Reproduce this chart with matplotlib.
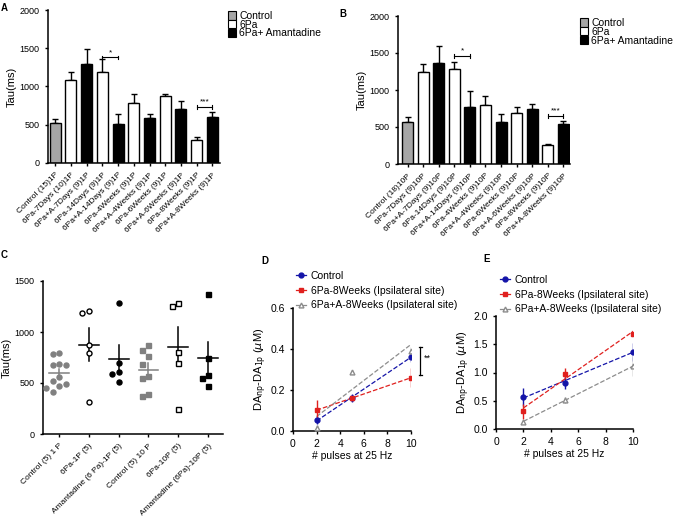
import numpy as np
import matplotlib.pyplot as plt
from matplotlib.patches import Patch
from matplotlib.lines import Line2D

plt.rcParams['font.family'] = ['Liberation Sans', 'DejaVu Sans']
plt.rcParams['axes.linewidth'] = 1.1

W, H = 680, 518


def box(l, t, r, b):
    # pixel box -> figure fraction
    return [l / W, 1 - b / H, (r - l) / W, (b - t) / H]


# ---- Panel A / B data (Tau, ms) ----
bar_groups = ['Control', '6Pa', '6Pa+A', '6Pa', '6Pa+A', '6Pa', '6Pa+A',
              '6Pa', '6Pa+A', '6Pa', '6Pa+A']
a_labels = ['Control (15)1P', '6Pa-7Days (10)1P', '6Pa+A-7Days (9)1P',
            '6Pa-14Days (9)1P', '6Pa+A-14Days (9)1P', '6Pa-4Weeks (9)1P',
            '6Pa+A-4Weeks (9)1P', '6Pa-6Weeks (9)1P', '6Pa+A-6Weeks (9)1P',
            '6Pa-8Weeks (9)1P', '6Pa+A-8Weeks (9)1P']
a_mean = [520, 1090, 1290, 1190, 505, 780, 585, 870, 710, 300, 605]
a_sem = [55, 100, 195, 165, 135, 120, 50, 30, 105, 35, 60]

b_labels = ['Control (18)10P', '6Pa-7Days (9)10P', '6Pa+A-7Days (9)10P',
            '6Pa-14Days (9)10P', '6Pa+A-14Days (9)10P', '6Pa-4Weeks (9)10P',
            '6Pa+A-4Weeks (9)10P', '6Pa-6Weeks (9)10P', '6Pa+A-6Weeks (9)10P',
            '6Pa-8Weeks (9)10P', '6Pa+A-8Weeks (9)10P']
b_mean = [565, 1245, 1365, 1280, 775, 800, 570, 690, 750, 255, 545]
b_sem = [70, 110, 225, 105, 210, 115, 100, 75, 55, 10, 35]

# significance brackets: (bar i, bar j, height, label)
a_stars = [(3, 4, 1380, '*'), (9, 10, 730, '***')]
b_stars = [(3, 4, 1460, '*'), (9, 10, 650, '***')]

# ---- Panel C data (individual Tau values, ms) ----
c_labels = ['Control (5) 1 P', '6Pa-1P (5)', 'Amantadine (6 Pa)-1P (5)',
            'Control (5) 10 P', '6Pa-10P (5)', 'Amantadine (6Pa)-10P (5)']
c_values = [
    [790, 785, 690, 680, 675, 560, 520, 490, 470, 455, 415],
    [1210, 1190, 870, 790, 315],
    [1285, 700, 605, 585, 505],
    [875, 820, 760, 685, 565, 545, 390, 375],
    [1280, 1255, 800, 700, 250],
    [1370, 750, 580, 545, 470],
]

# ---- Panel D / E data (DA_np - DA_1p, uM) ----
pulses = [2, 5, 10]
d_ctrl = [0.053, 0.160, 0.362]
d_ctrl_err = [0.02, 0.02, 0.025]
d_6pa = [0.102, 0.160, 0.260]
d_6pa_err = [0.05, 0.012, 0.045]
d_6paA = [0.017, 0.288, 0.390]
d_6paA_err = [0.01, 0.012, 0.02]

e_ctrl = [0.57, 0.82, 1.37]
e_ctrl_err = [0.16, 0.12, 0.16]
e_6pa = [0.31, 0.98, 1.69]
e_6pa_err = [0.13, 0.10, 0.07]
e_6paA = [0.13, 0.51, 1.11]
e_6paA_err = [0.03, 0.05, 0.17]

series_names = ['Control', '6Pa-8Weeks (Ipsilateral site)',
                '6Pa+A-8Weeks (Ipsilateral site)']

bar_colors = {'Control': '#a6a6a6', '6Pa': 'white', '6Pa+A': 'black'}
c_colors = ['#808080', 'black', 'black', '#808080', 'black', 'black']
c_faces = ['#808080', 'white', 'black', '#808080', 'white', 'black']
c_marks = ['o', 'o', 'o', 's', 's', 's']
line_colors = ['#1414a8', '#e0201e', '#8c8c8c']

fig = plt.figure(figsize=(6.8, 5.18), dpi=100)


def style_axes(ax):
    for s in ['top', 'right']:
        ax.spines[s].set_visible(False)
    ax.tick_params(length=2.5, width=1)


def bar_panel(rect, labels, means, sems, stars, xlim, leg_xy):
    ax = fig.add_axes(rect)
    x = np.arange(len(means))
    ax.bar(x, means, width=0.7, color=[bar_colors[g] for g in bar_groups],
           edgecolor='black', linewidth=1, zorder=2)
    ax.errorbar(x, means, yerr=[np.zeros(len(x)), sems], fmt='none',
                ecolor='black', elinewidth=1, capsize=2.5, capthick=1,
                zorder=1)
    for i, j, y, txt in stars:
        ax.plot([i, j], [y, y], color='black', lw=0.8)
        ax.plot([i, i], [y - 25, y + 25], color='black', lw=0.8)
        ax.plot([j, j], [y - 25, y + 25], color='black', lw=0.8)
        ax.text((i + j) / 2, y + 20, txt, ha='center', va='bottom',
                fontsize=6)
    ax.set_xlim(*xlim)
    ax.set_ylim(0, 2000)
    ax.set_yticks([0, 500, 1000, 1500, 2000])
    ax.set_xticks(x)
    ax.set_xticklabels(labels, rotation=45, ha='right',
                       rotation_mode='anchor', fontsize=6)
    ax.tick_params(axis='y', labelsize=6.5)
    ax.set_ylabel('Tau(ms)', fontsize=8, labelpad=2)
    style_axes(ax)
    handles = [Patch(facecolor=bar_colors[k], edgecolor='black', lw=0.8)
               for k in ['Control', '6Pa', '6Pa+A']]
    ax.legend(handles, ['Control', '6Pa', '6Pa+ Amantadine'],
              loc='upper left', bbox_to_anchor=leg_xy,
              bbox_transform=fig.transFigure, frameon=False, fontsize=7.5,
              labelspacing=-0.12, handlelength=0.8, handleheight=0.9,
              handletextpad=0.3, borderpad=0, borderaxespad=0)
    return ax


bar_panel(box(48, 10, 220, 163), a_labels, a_mean, a_sem, a_stars,
          (-0.45, 10.48), (228 / W, 1 - 11 / H))
bar_panel(box(398, 16, 570, 164), b_labels, b_mean, b_sem, b_stars,
          (-0.61, 10.42), (580 / W, 1 - 18 / H))


# ---- Panel C ----
def swarm(vals, step=0.22, gap=75):
    placed = []
    offs = []
    cands = [0]
    for k in range(1, 6):
        cands += [-k * step, k * step]
    for v in vals:
        for o in cands:
            if all(abs(v - pv) > gap or abs(o - po) > step * 0.9
                   for pv, po in placed):
                break
        placed.append((v, o))
        offs.append(o)
    return np.array(offs)


axc = fig.add_axes(box(43, 281, 223, 434))
for i, vals in enumerate(c_values):
    vals = np.array(vals, dtype=float)
    xs = i + swarm(vals)
    axc.plot(xs, vals, linestyle='none', marker=c_marks[i], ms=3.6,
             mfc=c_faces[i], mec=c_colors[i], mew=1.0, zorder=3)
    m = vals.mean()
    sem = vals.std(ddof=1) / np.sqrt(len(vals))
    axc.plot([i - 0.33, i + 0.33], [m, m], color=c_colors[i], lw=1.1, zorder=2)
    axc.plot([i, i], [m - sem, m + sem], color=c_colors[i], lw=1.1, zorder=2)
axc.set_xlim(-0.54, 5.5)
axc.set_ylim(0, 1500)
axc.set_yticks([0, 500, 1000, 1500])
axc.set_xticks(range(len(c_labels)))
axc.set_xticklabels(c_labels, rotation=45, ha='right',
                    rotation_mode='anchor', fontsize=6)
axc.tick_params(axis='y', labelsize=6.5)
axc.set_ylabel('Tau(ms)', fontsize=8, labelpad=2)
style_axes(axc)


# ---- Panels D / E ----
def line_panel(rect, data, errs, ylim, yticks, leg_xy):
    ax = fig.add_axes(rect)
    marks = ['o', 's', '^']
    faces = [line_colors[0], line_colors[1], 'white']
    handles = []
    xs = np.array(pulses, dtype=float)
    for k in range(3):
        y = np.array(data[k])
        ax.errorbar(xs, y, yerr=errs[k], fmt=marks[k], color=line_colors[k],
                    mfc=faces[k], mec=line_colors[k], ms=3.5, elinewidth=1,
                    capsize=0, zorder=3)
        p = np.polyfit(xs, y, 1)
        ax.plot(xs[[0, -1]], np.polyval(p, xs[[0, -1]]), '--',
                color=line_colors[k], lw=0.9, zorder=2)
        handles.append(Line2D([], [], color=line_colors[k], marker=marks[k],
                              mfc=faces[k], ms=3.5, lw=0.9))
    ax.set_xlim(0, 10)
    ax.set_xticks([0, 2, 4, 6, 8, 10])
    ax.set_ylim(*ylim)
    ax.set_yticks(yticks)
    ax.yaxis.set_major_formatter(plt.FormatStrFormatter('%.1f'))
    ax.tick_params(labelsize=7.5)
    ax.set_xlabel('# pulses at 25 Hz', fontsize=7.5, labelpad=1)
    ax.set_ylabel(r'DA$_{\mathrm{np}}$-DA$_{\mathrm{1p}}$ ($\mu$M)',
                  fontsize=8, labelpad=1)
    style_axes(ax)
    ax.legend(handles, series_names, loc='upper left', bbox_to_anchor=leg_xy,
              bbox_transform=fig.transFigure, frameon=False, fontsize=7.5,
              labelspacing=0.45, handlelength=1.0, handletextpad=0.4,
              borderpad=0, borderaxespad=0)
    return ax


axd = line_panel(box(293, 308, 411, 431), [d_ctrl, d_6pa, d_6paA],
                 [d_ctrl_err, d_6pa_err, d_6paA_err], (0, 0.6),
                 [0.0, 0.2, 0.4, 0.6], (296 / W, 1 - 271 / H))
axd.plot([10.8, 10.8], [0.275, 0.41], color='black', lw=0.9, clip_on=False)
axd.plot([10.65, 10.95], [0.41, 0.41], color='black', lw=0.9, clip_on=False)
axd.plot([10.65, 10.95], [0.275, 0.275], color='black', lw=0.9, clip_on=False)
axd.text(11.1, 0.355, '**', fontsize=6.5, va='center', clip_on=False)

line_panel(box(496, 316, 633, 429), [e_ctrl, e_6pa, e_6paA],
           [e_ctrl_err, e_6pa_err, e_6paA_err], (0, 2.0),
           [0.0, 0.5, 1.0, 1.5, 2.0], (500 / W, 1 - 275 / H))

# panel letters
for txt, xp, yp in [('A', 4, 8), ('B', 343, 14), ('C', 4, 255),
                    ('D', 265, 261), ('E', 487, 259)]:
    fig.text(xp / W, 1 - yp / H, txt, fontsize=7, fontweight='bold',
             va='center', ha='center')

fig.savefig('out.png', dpi=100)
